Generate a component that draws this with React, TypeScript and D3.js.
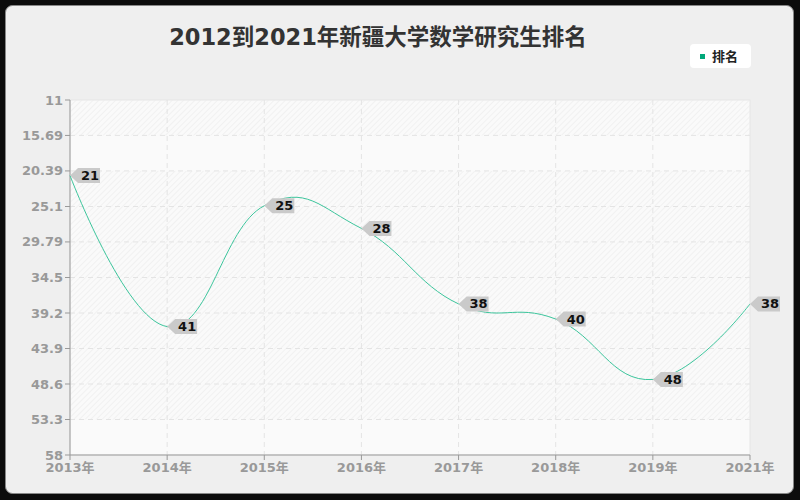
import { useMemo } from "react";
import * as d3 from "d3";

// ── Data ──────────────────────────────────────────────────────────────────────

const TITLE = "2012到2021年新疆大学数学研究生排名";
const SERIES_NAME = "排名";
const years = ["2013年", "2014年", "2015年", "2016年", "2017年", "2018年", "2019年", "2021年"];
const ranks = [21, 41, 25, 28, 38, 40, 48, 38];
const yTicks = [11, 15.69, 20.39, 25.1, 29.79, 34.5, 39.2, 43.9, 48.6, 53.3, 58];
// bands (between ticks) that have no hatching
const plainBands = [1, 9];

const W = 800;
const H = 500;
const M = { top: 100, right: 50, bottom: 45, left: 70 };
const LINE = "#3cc59c";
const FONT = "'DejaVu Sans', 'Noto Sans CJK SC', sans-serif";

export default function App() {
  const plotW = W - M.left - M.right;
  const plotH = H - M.top - M.bottom;

  const x = useMemo(
    () => d3.scalePoint<string>().domain(years).range([0, plotW]),
    [plotW]
  );
  const y = useMemo(
    () => d3.scaleLinear().domain([11, 58]).range([0, plotH]),
    [plotH]
  );

  const pts: [number, number][] = years.map((yr, i) => [x(yr)!, y(ranks[i])]);
  const path = d3.line().curve(d3.curveCardinal.tension(-0.3))(pts) ?? "";

  return (
    <svg
      width={W}
      height={H}
      style={{ position: "absolute", left: 0, top: 0, fontFamily: FONT }}
    >
      <defs>
        <pattern id="hatch" width="4" height="4" patternUnits="userSpaceOnUse" patternTransform="rotate(45)">
          <line x1="0" y1="0" x2="0" y2="4" stroke="#ebebeb" strokeWidth="1.2" />
        </pattern>
      </defs>

      {/* frame */}
      <rect x={0} y={0} width={W} height={H} fill="#0c0c0c" />
      <rect x={5.5} y={5.5} width={788} height={488} rx={7} fill="#efefef" stroke="#888" strokeWidth={1} />

      <text x={378} y={45} textAnchor="middle" fontSize={22.5} fontWeight={700} fill="#333">
        {TITLE}
      </text>

      {/* legend */}
      <g transform="translate(690,44)">
        <rect x={0} y={0} width={61} height={24} rx={4} fill="#fff" />
        <rect x={10} y={10} width={5} height={5} fill="#00a87a" />
        <text x={22} y={17} fontSize={13} fontWeight={700} fill="#222">
          {SERIES_NAME}
        </text>
      </g>

      <g transform={`translate(${M.left},${M.top})`}>
        <rect x={0} y={0} width={plotW} height={plotH} fill="#fafafa" stroke="#e6e6e6" />
        {yTicks.slice(0, -1).map((t, i) =>
          plainBands.includes(i) ? null : (
            <rect key={`b${i}`} x={0} y={y(t)} width={plotW} height={y(yTicks[i + 1]) - y(t)} fill="url(#hatch)" />
          )
        )}

        {/* grid */}
        {yTicks.slice(1, -1).map((t) => (
          <line key={`gy${t}`} x1={0} x2={plotW} y1={y(t)} y2={y(t)} stroke="#e4e4e4" strokeDasharray="5,4" />
        ))}
        {years.slice(1, -1).map((yr) => (
          <line key={`gx${yr}`} x1={x(yr)} x2={x(yr)} y1={0} y2={plotH} stroke="#e4e4e4" strokeDasharray="5,4" />
        ))}

        {/* axes */}
        <line x1={0} x2={0} y1={0} y2={plotH} stroke="#999" />
        <line x1={0} x2={plotW} y1={plotH} y2={plotH} stroke="#999" />
        {yTicks.map((t) => (
          <g key={`ty${t}`} transform={`translate(0,${y(t)})`}>
            <line x1={-5} x2={0} stroke="#999" />
            <text x={-7} dy="0.35em" textAnchor="end" fontSize={13} fontWeight={700} fill="#999">
              {t}
            </text>
          </g>
        ))}
        {years.map((yr) => (
          <g key={`tx${yr}`} transform={`translate(${x(yr)},${plotH})`}>
            <line y1={0} y2={5} stroke="#999" />
            <text y={17} textAnchor="middle" fontSize={13} fontWeight={700} fill="#999">
              {yr}
            </text>
          </g>
        ))}

        <path d={path} fill="none" stroke={LINE} strokeWidth={1} />

        {/* value labels */}
        {pts.map(([px, py], i) => (
          <g key={`l${i}`} transform={`translate(${px},${py})`}>
            <path d="M0,0 L8,-7.5 L30,-7.5 L30,7.5 L8,7.5 Z" fill="#cacaca" />
            <text x={20} y={4.5} textAnchor="middle" fontSize={13} fontWeight={700} fill="#111">
              {ranks[i]}
            </text>
          </g>
        ))}
      </g>
    </svg>
  );
}
